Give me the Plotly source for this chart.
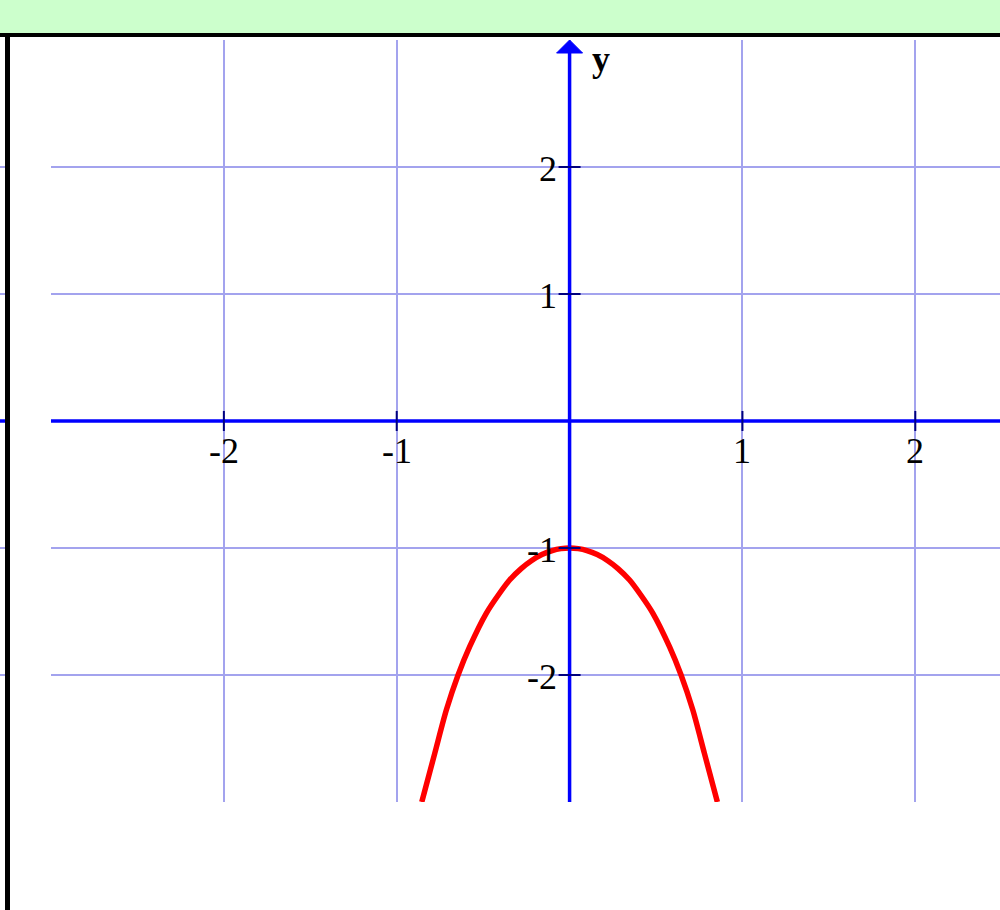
import plotly.graph_objects as go

# ---- data ----
x_ticks = [-2, -1, 1, 2]
x_tick_labels = ["-2", "-1", "1", "2"]
y_ticks = [-2, -1, 1, 2]
y_tick_labels = ["-2", "-1", "1", "2"]
grid_vals = [-2, -1, 0, 1, 2]

curve_x = [-0.855, -0.780, -0.713, -0.645, -0.578, -0.482, -0.410, -0.347, -0.280, -0.221, -0.160,
           -0.100, -0.050, 0.0,
           0.050, 0.100, 0.160, 0.221, 0.280, 0.347, 0.410, 0.482, 0.578, 0.645, 0.713, 0.780, 0.855]
curve_y = [-3.0, -2.617, -2.276, -2.0, -1.777, -1.514, -1.366, -1.252, -1.162, -1.100, -1.052,
           -1.020, -1.005, -1.0,
           -1.005, -1.020, -1.052, -1.100, -1.162, -1.252, -1.366, -1.514, -1.777, -2.0, -2.276, -2.617, -3.0]

X_RANGE = [-3.0, 2.49]
Y_RANGE = [-3.0, 3.0]
y_label = "y"

# ---- figure geometry (pixels) ----
W, H = 1000, 910
L, R, T, B = 51, 0, 40, 108
PW, PH = W - L - R, H - T - B


def px(xp):
    return (xp - L) / PW


def py(yp):
    return (H - B - yp) / PH


GRID = "#a3a3ee"
AXIS = "#0000ff"
TICK = "#000080"
FONT = "Liberation Serif, Times New Roman, serif"
FS = 36

fig = go.Figure()
fig.add_trace(go.Scatter(x=curve_x, y=curve_y, mode="lines",
                         line=dict(color="#ff0000", width=5.5, shape="spline", smoothing=0.8),
                         hoverinfo="skip", showlegend=False, cliponaxis=False))

shapes = []
# green band and black frame lines
shapes.append(dict(type="rect", xref="paper", yref="paper", x0=px(0), x1=px(W), y0=py(0), y1=py(33),
                   fillcolor="#ccffcc", line=dict(width=0), layer="above"))
shapes.append(dict(type="line", xref="paper", yref="paper", x0=px(0), x1=px(W), y0=py(35), y1=py(35),
                   line=dict(color="black", width=4), layer="above"))
shapes.append(dict(type="line", xref="paper", yref="paper", x0=px(7.5), x1=px(7.5), y0=py(35), y1=py(H),
                   line=dict(color="black", width=5), layer="above"))
# small stubs on the far left
for v in y_ticks:
    shapes.append(dict(type="line", xref="paper", yref="y", x0=px(0), x1=px(5), y0=v, y1=v,
                       line=dict(color=GRID, width=2), layer="above"))
shapes.append(dict(type="line", xref="paper", yref="y", x0=px(0), x1=px(5), y0=0, y1=0,
                   line=dict(color=AXIS, width=3.5), layer="above"))

# axes
shapes.append(dict(type="line", xref="x", yref="y", x0=X_RANGE[0], x1=X_RANGE[1], y0=0, y1=0,
                   line=dict(color=AXIS, width=3.5), layer="above"))
shapes.append(dict(type="line", xref="x", yref="y", x0=0, x1=0, y0=Y_RANGE[0], y1=Y_RANGE[1] - 0.08,
                   line=dict(color=AXIS, width=3.5), layer="above"))
# arrow head
shapes.append(dict(type="path", xref="x", yref="y", xsizemode="pixel", ysizemode="pixel",
                   xanchor=0, yanchor=Y_RANGE[1], path="M -13 -13 L 13 -13 L 0 0 Z",
                   fillcolor=AXIS, line=dict(color=AXIS, width=1), layer="above"))
# tick marks
for v in x_ticks:
    shapes.append(dict(type="line", xref="x", yref="y", ysizemode="pixel", yanchor=0,
                       x0=v, x1=v, y0=-10, y1=10, line=dict(color=TICK, width=2), layer="above"))
for v in y_ticks:
    shapes.append(dict(type="line", xref="x", yref="y", xsizemode="pixel", xanchor=0,
                       y0=v, y1=v, x0=-11, x1=11, line=dict(color=TICK, width=2), layer="above"))

annotations = []
for v, t in zip(x_ticks, x_tick_labels):
    annotations.append(dict(x=v, y=0, xref="x", yref="y", text=t, showarrow=False,
                            xanchor="center", yanchor="middle", yshift=-30,
                            font=dict(family=FONT, size=FS, color="black")))
for v, t in zip(y_ticks, y_tick_labels):
    annotations.append(dict(x=0, y=v, xref="x", yref="y", text=t, showarrow=False,
                            xanchor="right", yanchor="middle", xshift=-11, yshift=-2,
                            font=dict(family=FONT, size=FS, color="black")))
annotations.append(dict(x=0, y=Y_RANGE[1], xref="x", yref="y", text="<b>" + y_label + "</b>",
                        showarrow=False, xanchor="center", yanchor="middle", xshift=31, yshift=-19,
                        font=dict(family=FONT, size=FS, color="black")))

fig.update_layout(
    width=W, height=H, margin=dict(l=L, r=R, t=T, b=B),
    paper_bgcolor="white", plot_bgcolor="white",
    shapes=shapes, annotations=annotations, showlegend=False,
    xaxis=dict(range=X_RANGE, tickmode="array", tickvals=grid_vals, showticklabels=False,
               showgrid=True, gridcolor=GRID, gridwidth=1.5, zeroline=False, showline=False,
               ticks="", fixedrange=True),
    yaxis=dict(range=Y_RANGE, tickmode="array", tickvals=grid_vals, showticklabels=False,
               showgrid=True, gridcolor=GRID, gridwidth=1.5, zeroline=False, showline=False,
               ticks="", fixedrange=True),
)

fig.write_html("out.html", config={"displayModeBar": False},
               post_script="document.body.style.margin='0';document.body.style.overflow='hidden';")
